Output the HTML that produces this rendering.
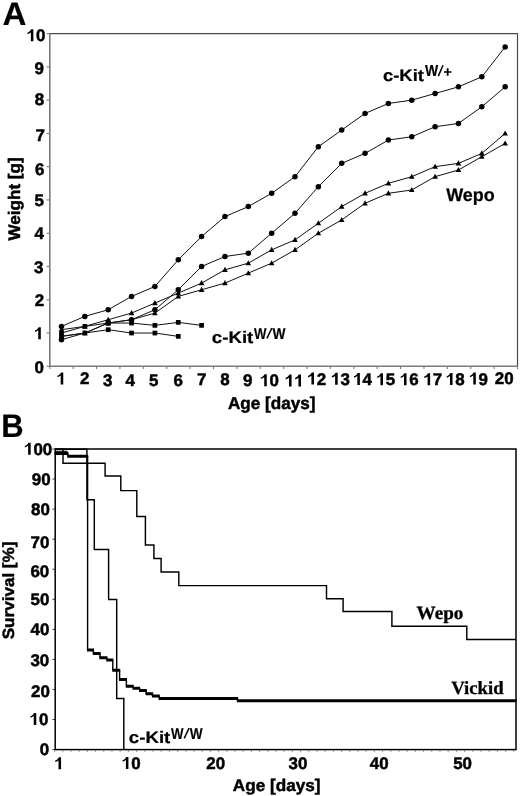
<!DOCTYPE html><html><head><meta charset="utf-8"><style>html,body{margin:0;padding:0;background:#fff;overflow:hidden}svg{display:block;filter:grayscale(1)}text{text-rendering:geometricPrecision}</style></head><body><svg width="520" height="796" viewBox="0 0 520 796">
<rect width="520" height="796" fill="#fff"/>
<path d="M49.8,33.6 H517.5 V366.3" fill="none" stroke="#4a4a4a" stroke-width="1.2"/>
<path d="M49.8,33.6 V366.3 H517.5" fill="none" stroke="#7a7a7a" stroke-width="1.6"/>
<line x1="46.6" y1="366.30" x2="49.8" y2="366.30" stroke="#7a7a7a" stroke-width="1.1"/>
<line x1="46.6" y1="333.03" x2="49.8" y2="333.03" stroke="#7a7a7a" stroke-width="1.1"/>
<line x1="46.6" y1="299.76" x2="49.8" y2="299.76" stroke="#7a7a7a" stroke-width="1.1"/>
<line x1="46.6" y1="266.49" x2="49.8" y2="266.49" stroke="#7a7a7a" stroke-width="1.1"/>
<line x1="46.6" y1="233.22" x2="49.8" y2="233.22" stroke="#7a7a7a" stroke-width="1.1"/>
<line x1="46.6" y1="199.95" x2="49.8" y2="199.95" stroke="#7a7a7a" stroke-width="1.1"/>
<line x1="46.6" y1="166.68" x2="49.8" y2="166.68" stroke="#7a7a7a" stroke-width="1.1"/>
<line x1="46.6" y1="133.41" x2="49.8" y2="133.41" stroke="#7a7a7a" stroke-width="1.1"/>
<line x1="46.6" y1="100.14" x2="49.8" y2="100.14" stroke="#7a7a7a" stroke-width="1.1"/>
<line x1="46.6" y1="66.87" x2="49.8" y2="66.87" stroke="#7a7a7a" stroke-width="1.1"/>
<line x1="46.6" y1="33.60" x2="49.8" y2="33.60" stroke="#7a7a7a" stroke-width="1.1"/>
<line x1="49.80" y1="366.3" x2="49.80" y2="369.1" stroke="#7a7a7a" stroke-width="1.1"/>
<line x1="73.19" y1="366.3" x2="73.19" y2="369.1" stroke="#7a7a7a" stroke-width="1.1"/>
<line x1="96.57" y1="366.3" x2="96.57" y2="369.1" stroke="#7a7a7a" stroke-width="1.1"/>
<line x1="119.95" y1="366.3" x2="119.95" y2="369.1" stroke="#7a7a7a" stroke-width="1.1"/>
<line x1="143.34" y1="366.3" x2="143.34" y2="369.1" stroke="#7a7a7a" stroke-width="1.1"/>
<line x1="166.72" y1="366.3" x2="166.72" y2="369.1" stroke="#7a7a7a" stroke-width="1.1"/>
<line x1="190.11" y1="366.3" x2="190.11" y2="369.1" stroke="#7a7a7a" stroke-width="1.1"/>
<line x1="213.50" y1="366.3" x2="213.50" y2="369.1" stroke="#7a7a7a" stroke-width="1.1"/>
<line x1="236.88" y1="366.3" x2="236.88" y2="369.1" stroke="#7a7a7a" stroke-width="1.1"/>
<line x1="260.26" y1="366.3" x2="260.26" y2="369.1" stroke="#7a7a7a" stroke-width="1.1"/>
<line x1="283.65" y1="366.3" x2="283.65" y2="369.1" stroke="#7a7a7a" stroke-width="1.1"/>
<line x1="307.03" y1="366.3" x2="307.03" y2="369.1" stroke="#7a7a7a" stroke-width="1.1"/>
<line x1="330.42" y1="366.3" x2="330.42" y2="369.1" stroke="#7a7a7a" stroke-width="1.1"/>
<line x1="353.81" y1="366.3" x2="353.81" y2="369.1" stroke="#7a7a7a" stroke-width="1.1"/>
<line x1="377.19" y1="366.3" x2="377.19" y2="369.1" stroke="#7a7a7a" stroke-width="1.1"/>
<line x1="400.57" y1="366.3" x2="400.57" y2="369.1" stroke="#7a7a7a" stroke-width="1.1"/>
<line x1="423.96" y1="366.3" x2="423.96" y2="369.1" stroke="#7a7a7a" stroke-width="1.1"/>
<line x1="447.34" y1="366.3" x2="447.34" y2="369.1" stroke="#7a7a7a" stroke-width="1.1"/>
<line x1="470.73" y1="366.3" x2="470.73" y2="369.1" stroke="#7a7a7a" stroke-width="1.1"/>
<line x1="494.11" y1="366.3" x2="494.11" y2="369.1" stroke="#7a7a7a" stroke-width="1.1"/>
<line x1="517.50" y1="366.3" x2="517.50" y2="369.1" stroke="#7a7a7a" stroke-width="1.1"/>
<polyline points="61.50,326.38 84.85,316.40 108.20,309.74 131.55,296.43 154.90,286.45 178.25,259.84 201.60,236.55 224.95,216.59 248.30,206.60 271.65,193.30 295.00,176.66 318.35,146.72 341.70,130.08 365.05,113.45 388.40,103.47 411.75,100.14 435.10,93.49 458.45,86.83 481.80,76.85 505.15,46.91" fill="none" stroke="#111" stroke-width="1.0"/>
<polyline points="61.50,339.68 84.85,333.03 108.20,323.05 131.55,319.72 154.90,309.74 178.25,289.78 201.60,266.49 224.95,256.51 248.30,253.18 271.65,233.22 295.00,213.26 318.35,186.64 341.70,163.35 365.05,153.37 388.40,140.06 411.75,136.74 435.10,126.76 458.45,123.43 481.80,106.79 505.15,86.83" fill="none" stroke="#111" stroke-width="1.0"/>
<polyline points="61.50,329.70 84.85,326.38 108.20,319.72 131.55,313.07 154.90,303.09 178.25,293.11 201.60,283.12 224.95,269.82 248.30,263.16 271.65,249.86 295.00,239.87 318.35,223.24 341.70,206.60 365.05,193.30 388.40,183.32 411.75,176.66 435.10,166.68 458.45,163.35 481.80,153.37 505.15,133.41" fill="none" stroke="#111" stroke-width="1.0"/>
<polyline points="61.50,336.36 84.85,333.03 108.20,323.05 131.55,319.72 154.90,313.07 178.25,296.43 201.60,289.78 224.95,283.12 248.30,273.14 271.65,263.16 295.00,249.86 318.35,233.22 341.70,219.91 365.05,203.28 388.40,193.30 411.75,189.97 435.10,176.66 458.45,170.01 481.80,156.70 505.15,143.39" fill="none" stroke="#111" stroke-width="1.0"/>
<polyline points="61.50,333.03 84.85,326.38 108.20,323.05 131.55,323.05 154.90,325.38 178.25,322.38 201.60,325.38" fill="none" stroke="#111" stroke-width="1.0"/>
<polyline points="61.50,336.36 84.85,333.03 108.20,329.70 131.55,333.03 154.90,333.03 178.25,336.36" fill="none" stroke="#111" stroke-width="1.0"/>
<circle cx="61.50" cy="326.38" r="2.75" fill="#000"/>
<circle cx="84.85" cy="316.40" r="2.75" fill="#000"/>
<circle cx="108.20" cy="309.74" r="2.75" fill="#000"/>
<circle cx="131.55" cy="296.43" r="2.75" fill="#000"/>
<circle cx="154.90" cy="286.45" r="2.75" fill="#000"/>
<circle cx="178.25" cy="259.84" r="2.75" fill="#000"/>
<circle cx="201.60" cy="236.55" r="2.75" fill="#000"/>
<circle cx="224.95" cy="216.59" r="2.75" fill="#000"/>
<circle cx="248.30" cy="206.60" r="2.75" fill="#000"/>
<circle cx="271.65" cy="193.30" r="2.75" fill="#000"/>
<circle cx="295.00" cy="176.66" r="2.75" fill="#000"/>
<circle cx="318.35" cy="146.72" r="2.75" fill="#000"/>
<circle cx="341.70" cy="130.08" r="2.75" fill="#000"/>
<circle cx="365.05" cy="113.45" r="2.75" fill="#000"/>
<circle cx="388.40" cy="103.47" r="2.75" fill="#000"/>
<circle cx="411.75" cy="100.14" r="2.75" fill="#000"/>
<circle cx="435.10" cy="93.49" r="2.75" fill="#000"/>
<circle cx="458.45" cy="86.83" r="2.75" fill="#000"/>
<circle cx="481.80" cy="76.85" r="2.75" fill="#000"/>
<circle cx="505.15" cy="46.91" r="2.75" fill="#000"/>
<circle cx="61.50" cy="339.68" r="2.75" fill="#000"/>
<circle cx="108.20" cy="323.05" r="2.75" fill="#000"/>
<circle cx="131.55" cy="319.72" r="2.75" fill="#000"/>
<circle cx="154.90" cy="309.74" r="2.75" fill="#000"/>
<circle cx="178.25" cy="289.78" r="2.75" fill="#000"/>
<circle cx="201.60" cy="266.49" r="2.75" fill="#000"/>
<circle cx="224.95" cy="256.51" r="2.75" fill="#000"/>
<circle cx="248.30" cy="253.18" r="2.75" fill="#000"/>
<circle cx="271.65" cy="233.22" r="2.75" fill="#000"/>
<circle cx="295.00" cy="213.26" r="2.75" fill="#000"/>
<circle cx="318.35" cy="186.64" r="2.75" fill="#000"/>
<circle cx="341.70" cy="163.35" r="2.75" fill="#000"/>
<circle cx="365.05" cy="153.37" r="2.75" fill="#000"/>
<circle cx="388.40" cy="140.06" r="2.75" fill="#000"/>
<circle cx="411.75" cy="136.74" r="2.75" fill="#000"/>
<circle cx="435.10" cy="126.76" r="2.75" fill="#000"/>
<circle cx="458.45" cy="123.43" r="2.75" fill="#000"/>
<circle cx="481.80" cy="106.79" r="2.75" fill="#000"/>
<circle cx="505.15" cy="86.83" r="2.75" fill="#000"/>
<path d="M61.50,326.70L64.30,331.80L58.70,331.80Z" fill="#000"/>
<path d="M84.85,323.38L87.65,328.48L82.05,328.48Z" fill="#000"/>
<path d="M108.20,316.72L111.00,321.82L105.40,321.82Z" fill="#000"/>
<path d="M131.55,310.07L134.35,315.17L128.75,315.17Z" fill="#000"/>
<path d="M154.90,300.09L157.70,305.19L152.10,305.19Z" fill="#000"/>
<path d="M178.25,290.11L181.05,295.21L175.45,295.21Z" fill="#000"/>
<path d="M201.60,280.12L204.40,285.23L198.80,285.23Z" fill="#000"/>
<path d="M224.95,266.82L227.75,271.92L222.15,271.92Z" fill="#000"/>
<path d="M248.30,260.16L251.10,265.26L245.50,265.26Z" fill="#000"/>
<path d="M271.65,246.86L274.45,251.96L268.85,251.96Z" fill="#000"/>
<path d="M295.00,236.87L297.80,241.97L292.20,241.97Z" fill="#000"/>
<path d="M318.35,220.24L321.15,225.34L315.55,225.34Z" fill="#000"/>
<path d="M341.70,203.60L344.50,208.70L338.90,208.70Z" fill="#000"/>
<path d="M365.05,190.30L367.85,195.40L362.25,195.40Z" fill="#000"/>
<path d="M388.40,180.32L391.20,185.42L385.60,185.42Z" fill="#000"/>
<path d="M411.75,173.66L414.55,178.76L408.95,178.76Z" fill="#000"/>
<path d="M435.10,163.68L437.90,168.78L432.30,168.78Z" fill="#000"/>
<path d="M458.45,160.35L461.25,165.45L455.65,165.45Z" fill="#000"/>
<path d="M481.80,150.37L484.60,155.47L479.00,155.47Z" fill="#000"/>
<path d="M505.15,130.41L507.95,135.51L502.35,135.51Z" fill="#000"/>
<path d="M61.50,333.36L64.30,338.46L58.70,338.46Z" fill="#000"/>
<path d="M84.85,330.03L87.65,335.13L82.05,335.13Z" fill="#000"/>
<path d="M108.20,320.05L111.00,325.15L105.40,325.15Z" fill="#000"/>
<path d="M131.55,316.72L134.35,321.82L128.75,321.82Z" fill="#000"/>
<path d="M154.90,310.07L157.70,315.17L152.10,315.17Z" fill="#000"/>
<path d="M178.25,293.43L181.05,298.53L175.45,298.53Z" fill="#000"/>
<path d="M201.60,286.78L204.40,291.88L198.80,291.88Z" fill="#000"/>
<path d="M224.95,280.12L227.75,285.23L222.15,285.23Z" fill="#000"/>
<path d="M248.30,270.14L251.10,275.24L245.50,275.24Z" fill="#000"/>
<path d="M271.65,260.16L274.45,265.26L268.85,265.26Z" fill="#000"/>
<path d="M295.00,246.86L297.80,251.96L292.20,251.96Z" fill="#000"/>
<path d="M318.35,230.22L321.15,235.32L315.55,235.32Z" fill="#000"/>
<path d="M341.70,216.91L344.50,222.01L338.90,222.01Z" fill="#000"/>
<path d="M365.05,200.28L367.85,205.38L362.25,205.38Z" fill="#000"/>
<path d="M388.40,190.30L391.20,195.40L385.60,195.40Z" fill="#000"/>
<path d="M411.75,186.97L414.55,192.07L408.95,192.07Z" fill="#000"/>
<path d="M435.10,173.66L437.90,178.76L432.30,178.76Z" fill="#000"/>
<path d="M458.45,167.01L461.25,172.11L455.65,172.11Z" fill="#000"/>
<path d="M481.80,153.70L484.60,158.80L479.00,158.80Z" fill="#000"/>
<path d="M505.15,140.39L507.95,145.49L502.35,145.49Z" fill="#000"/>
<rect x="59.15" y="330.68" width="4.70" height="4.70" fill="#000"/>
<rect x="82.50" y="324.03" width="4.70" height="4.70" fill="#000"/>
<rect x="105.85" y="320.70" width="4.70" height="4.70" fill="#000"/>
<rect x="129.20" y="320.70" width="4.70" height="4.70" fill="#000"/>
<rect x="152.55" y="323.03" width="4.70" height="4.70" fill="#000"/>
<rect x="175.90" y="320.03" width="4.70" height="4.70" fill="#000"/>
<rect x="199.25" y="323.03" width="4.70" height="4.70" fill="#000"/>
<rect x="59.15" y="334.01" width="4.70" height="4.70" fill="#000"/>
<rect x="82.50" y="330.68" width="4.70" height="4.70" fill="#000"/>
<rect x="105.85" y="327.35" width="4.70" height="4.70" fill="#000"/>
<rect x="129.20" y="330.68" width="4.70" height="4.70" fill="#000"/>
<rect x="152.55" y="330.68" width="4.70" height="4.70" fill="#000"/>
<rect x="175.90" y="334.01" width="4.70" height="4.70" fill="#000"/>
<rect x="55.2" y="449.0" width="460.8" height="300.6" fill="none" stroke="#000" stroke-width="1.5"/>
<line x1="52.3" y1="749.60" x2="55.2" y2="749.60" stroke="#000" stroke-width="1.0" stroke-opacity="0.7"/>
<line x1="52.3" y1="719.54" x2="55.2" y2="719.54" stroke="#000" stroke-width="1.0" stroke-opacity="0.7"/>
<line x1="52.3" y1="689.48" x2="55.2" y2="689.48" stroke="#000" stroke-width="1.0" stroke-opacity="0.7"/>
<line x1="52.3" y1="659.42" x2="55.2" y2="659.42" stroke="#000" stroke-width="1.0" stroke-opacity="0.7"/>
<line x1="52.3" y1="629.36" x2="55.2" y2="629.36" stroke="#000" stroke-width="1.0" stroke-opacity="0.7"/>
<line x1="52.3" y1="599.30" x2="55.2" y2="599.30" stroke="#000" stroke-width="1.0" stroke-opacity="0.7"/>
<line x1="52.3" y1="569.24" x2="55.2" y2="569.24" stroke="#000" stroke-width="1.0" stroke-opacity="0.7"/>
<line x1="52.3" y1="539.18" x2="55.2" y2="539.18" stroke="#000" stroke-width="1.0" stroke-opacity="0.7"/>
<line x1="52.3" y1="509.12" x2="55.2" y2="509.12" stroke="#000" stroke-width="1.0" stroke-opacity="0.7"/>
<line x1="52.3" y1="479.06" x2="55.2" y2="479.06" stroke="#000" stroke-width="1.0" stroke-opacity="0.7"/>
<line x1="52.3" y1="449.00" x2="55.2" y2="449.00" stroke="#000" stroke-width="1.0" stroke-opacity="0.7"/>
<line x1="54.60" y1="750.3000000000001" x2="54.60" y2="752.2" stroke="#000" stroke-width="0.9" stroke-opacity="0.45"/>
<line x1="62.80" y1="750.3000000000001" x2="62.80" y2="752.2" stroke="#000" stroke-width="0.9" stroke-opacity="0.45"/>
<line x1="71.00" y1="750.3000000000001" x2="71.00" y2="752.2" stroke="#000" stroke-width="0.9" stroke-opacity="0.45"/>
<line x1="79.20" y1="750.3000000000001" x2="79.20" y2="752.2" stroke="#000" stroke-width="0.9" stroke-opacity="0.45"/>
<line x1="87.40" y1="750.3000000000001" x2="87.40" y2="752.2" stroke="#000" stroke-width="0.9" stroke-opacity="0.45"/>
<line x1="95.60" y1="750.3000000000001" x2="95.60" y2="752.2" stroke="#000" stroke-width="0.9" stroke-opacity="0.45"/>
<line x1="103.80" y1="750.3000000000001" x2="103.80" y2="752.2" stroke="#000" stroke-width="0.9" stroke-opacity="0.45"/>
<line x1="112.00" y1="750.3000000000001" x2="112.00" y2="752.2" stroke="#000" stroke-width="0.9" stroke-opacity="0.45"/>
<line x1="120.20" y1="750.3000000000001" x2="120.20" y2="752.2" stroke="#000" stroke-width="0.9" stroke-opacity="0.45"/>
<line x1="128.40" y1="750.3000000000001" x2="128.40" y2="752.2" stroke="#000" stroke-width="0.9" stroke-opacity="0.45"/>
<line x1="136.60" y1="750.3000000000001" x2="136.60" y2="752.2" stroke="#000" stroke-width="0.9" stroke-opacity="0.45"/>
<line x1="144.80" y1="750.3000000000001" x2="144.80" y2="752.2" stroke="#000" stroke-width="0.9" stroke-opacity="0.45"/>
<line x1="153.00" y1="750.3000000000001" x2="153.00" y2="752.2" stroke="#000" stroke-width="0.9" stroke-opacity="0.45"/>
<line x1="161.20" y1="750.3000000000001" x2="161.20" y2="752.2" stroke="#000" stroke-width="0.9" stroke-opacity="0.45"/>
<line x1="169.40" y1="750.3000000000001" x2="169.40" y2="752.2" stroke="#000" stroke-width="0.9" stroke-opacity="0.45"/>
<line x1="177.60" y1="750.3000000000001" x2="177.60" y2="752.2" stroke="#000" stroke-width="0.9" stroke-opacity="0.45"/>
<line x1="185.80" y1="750.3000000000001" x2="185.80" y2="752.2" stroke="#000" stroke-width="0.9" stroke-opacity="0.45"/>
<line x1="194.00" y1="750.3000000000001" x2="194.00" y2="752.2" stroke="#000" stroke-width="0.9" stroke-opacity="0.45"/>
<line x1="202.20" y1="750.3000000000001" x2="202.20" y2="752.2" stroke="#000" stroke-width="0.9" stroke-opacity="0.45"/>
<line x1="210.40" y1="750.3000000000001" x2="210.40" y2="752.2" stroke="#000" stroke-width="0.9" stroke-opacity="0.45"/>
<line x1="218.60" y1="750.3000000000001" x2="218.60" y2="752.2" stroke="#000" stroke-width="0.9" stroke-opacity="0.45"/>
<line x1="226.80" y1="750.3000000000001" x2="226.80" y2="752.2" stroke="#000" stroke-width="0.9" stroke-opacity="0.45"/>
<line x1="235.00" y1="750.3000000000001" x2="235.00" y2="752.2" stroke="#000" stroke-width="0.9" stroke-opacity="0.45"/>
<line x1="243.20" y1="750.3000000000001" x2="243.20" y2="752.2" stroke="#000" stroke-width="0.9" stroke-opacity="0.45"/>
<line x1="251.40" y1="750.3000000000001" x2="251.40" y2="752.2" stroke="#000" stroke-width="0.9" stroke-opacity="0.45"/>
<line x1="259.60" y1="750.3000000000001" x2="259.60" y2="752.2" stroke="#000" stroke-width="0.9" stroke-opacity="0.45"/>
<line x1="267.80" y1="750.3000000000001" x2="267.80" y2="752.2" stroke="#000" stroke-width="0.9" stroke-opacity="0.45"/>
<line x1="276.00" y1="750.3000000000001" x2="276.00" y2="752.2" stroke="#000" stroke-width="0.9" stroke-opacity="0.45"/>
<line x1="284.20" y1="750.3000000000001" x2="284.20" y2="752.2" stroke="#000" stroke-width="0.9" stroke-opacity="0.45"/>
<line x1="292.40" y1="750.3000000000001" x2="292.40" y2="752.2" stroke="#000" stroke-width="0.9" stroke-opacity="0.45"/>
<line x1="300.60" y1="750.3000000000001" x2="300.60" y2="752.2" stroke="#000" stroke-width="0.9" stroke-opacity="0.45"/>
<line x1="308.80" y1="750.3000000000001" x2="308.80" y2="752.2" stroke="#000" stroke-width="0.9" stroke-opacity="0.45"/>
<line x1="317.00" y1="750.3000000000001" x2="317.00" y2="752.2" stroke="#000" stroke-width="0.9" stroke-opacity="0.45"/>
<line x1="325.20" y1="750.3000000000001" x2="325.20" y2="752.2" stroke="#000" stroke-width="0.9" stroke-opacity="0.45"/>
<line x1="333.40" y1="750.3000000000001" x2="333.40" y2="752.2" stroke="#000" stroke-width="0.9" stroke-opacity="0.45"/>
<line x1="341.60" y1="750.3000000000001" x2="341.60" y2="752.2" stroke="#000" stroke-width="0.9" stroke-opacity="0.45"/>
<line x1="349.80" y1="750.3000000000001" x2="349.80" y2="752.2" stroke="#000" stroke-width="0.9" stroke-opacity="0.45"/>
<line x1="358.00" y1="750.3000000000001" x2="358.00" y2="752.2" stroke="#000" stroke-width="0.9" stroke-opacity="0.45"/>
<line x1="366.20" y1="750.3000000000001" x2="366.20" y2="752.2" stroke="#000" stroke-width="0.9" stroke-opacity="0.45"/>
<line x1="374.40" y1="750.3000000000001" x2="374.40" y2="752.2" stroke="#000" stroke-width="0.9" stroke-opacity="0.45"/>
<line x1="382.60" y1="750.3000000000001" x2="382.60" y2="752.2" stroke="#000" stroke-width="0.9" stroke-opacity="0.45"/>
<line x1="390.80" y1="750.3000000000001" x2="390.80" y2="752.2" stroke="#000" stroke-width="0.9" stroke-opacity="0.45"/>
<line x1="399.00" y1="750.3000000000001" x2="399.00" y2="752.2" stroke="#000" stroke-width="0.9" stroke-opacity="0.45"/>
<line x1="407.20" y1="750.3000000000001" x2="407.20" y2="752.2" stroke="#000" stroke-width="0.9" stroke-opacity="0.45"/>
<line x1="415.40" y1="750.3000000000001" x2="415.40" y2="752.2" stroke="#000" stroke-width="0.9" stroke-opacity="0.45"/>
<line x1="423.60" y1="750.3000000000001" x2="423.60" y2="752.2" stroke="#000" stroke-width="0.9" stroke-opacity="0.45"/>
<line x1="431.80" y1="750.3000000000001" x2="431.80" y2="752.2" stroke="#000" stroke-width="0.9" stroke-opacity="0.45"/>
<line x1="440.00" y1="750.3000000000001" x2="440.00" y2="752.2" stroke="#000" stroke-width="0.9" stroke-opacity="0.45"/>
<line x1="448.20" y1="750.3000000000001" x2="448.20" y2="752.2" stroke="#000" stroke-width="0.9" stroke-opacity="0.45"/>
<line x1="456.40" y1="750.3000000000001" x2="456.40" y2="752.2" stroke="#000" stroke-width="0.9" stroke-opacity="0.45"/>
<line x1="464.60" y1="750.3000000000001" x2="464.60" y2="752.2" stroke="#000" stroke-width="0.9" stroke-opacity="0.45"/>
<line x1="472.80" y1="750.3000000000001" x2="472.80" y2="752.2" stroke="#000" stroke-width="0.9" stroke-opacity="0.45"/>
<line x1="481.00" y1="750.3000000000001" x2="481.00" y2="752.2" stroke="#000" stroke-width="0.9" stroke-opacity="0.45"/>
<line x1="489.20" y1="750.3000000000001" x2="489.20" y2="752.2" stroke="#000" stroke-width="0.9" stroke-opacity="0.45"/>
<line x1="497.40" y1="750.3000000000001" x2="497.40" y2="752.2" stroke="#000" stroke-width="0.9" stroke-opacity="0.45"/>
<line x1="505.60" y1="750.3000000000001" x2="505.60" y2="752.2" stroke="#000" stroke-width="0.9" stroke-opacity="0.45"/>
<line x1="513.80" y1="750.3000000000001" x2="513.80" y2="752.2" stroke="#000" stroke-width="0.9" stroke-opacity="0.45"/>
<path d="M55.2,449.2 H63 V463.2 H105.1 V476 H120.8 V490.6 H136.8 V516.5 H145.4 V544.9 H153.9 V558.5 H161.1 V571.9 H178.8 V585.6 H326.5 V598.8 H343.1 V611.5 H391.9 V626.2 H466.8 V639.5 H516" fill="none" stroke="#000" stroke-width="1.45"/>
<path d="M55.2,449.2 H86.9 V499.7 H94.3 V549.5 H108.6 V599.5 H116.7 V698.5 H123.8 V749.6" fill="none" stroke="#000" stroke-width="1.45"/>
<path d="M55.2,451.3 H67.5" fill="none" stroke="#000" stroke-width="1.1"/>
<path d="M67.8,453.4V456.3M87.6,456.3V650.1M93.4,650.1V653.5M100.0,653.5V657.8M106.9,657.8V660.0M112.8,660.0V670.3M119.6,670.3V679.4M126.4,679.4V686.2M133.1,686.2V688.3M139.6,688.3V690.6M146.2,690.6V693.7M152.5,693.7V696.0M159.2,696.0V698.4M237.5,698.4V700.8" fill="none" stroke="#000" stroke-width="1.4"/>
<path d="M54.6,453.4H68.4M67.2,456.3H88.2M87.0,650.1H94.0M92.8,653.5H100.6M99.4,657.8H107.5M106.3,660.0H113.4M112.2,670.3H120.2M119.0,679.4H127.0M125.8,686.2H133.7M132.5,688.3H140.2M139.0,690.6H146.8M145.6,693.7H153.1M151.9,696.0H159.8M158.6,698.4H238.1M236.9,700.8H516.6" fill="none" stroke="#000" stroke-width="3.0"/>
<g transform="translate(2.49,25.10) scale(1.0714,1.0547)"><text x="0" y="0" font-family="Liberation Sans" font-weight="bold" font-size="31" stroke="#000" stroke-width="0.15" stroke-linejoin="round">A</text></g>
<g transform="translate(1.20,437.10) scale(1.0000,1.0547)"><text x="0" y="0" font-family="Liberation Sans" font-weight="bold" font-size="31" stroke="#000" stroke-width="0.15" stroke-linejoin="round">B</text></g>
<g transform="translate(26.68,41.36) scale(1.0587,1.0493)"><path transform="translate(0.000,0) scale(0.01600,-0.01600)" d="M395,0 L245,0 L245,530 C190,480 120,448 50,428 L50,520 C150,560 225,630 265,716 L395,716 Z"/><text x="8.896" y="0" font-family="Liberation Sans" font-weight="bold" font-size="16" stroke="#000" stroke-width="0.45" stroke-linejoin="round">0</text></g>
<g transform="translate(34.42,74.02) scale(1.0587,1.0493)"><text x="0.000" y="0" font-family="Liberation Sans" font-weight="bold" font-size="16" stroke="#000" stroke-width="0.45" stroke-linejoin="round">9</text></g>
<g transform="translate(34.69,104.82) scale(1.0587,1.0493)"><text x="0.000" y="0" font-family="Liberation Sans" font-weight="bold" font-size="16" stroke="#000" stroke-width="0.45" stroke-linejoin="round">8</text></g>
<g transform="translate(35.49,141.32) scale(1.0587,1.0493)"><text x="0.000" y="0" font-family="Liberation Sans" font-weight="bold" font-size="16" stroke="#000" stroke-width="0.45" stroke-linejoin="round">7</text></g>
<g transform="translate(35.02,174.52) scale(1.0587,1.0493)"><text x="0.000" y="0" font-family="Liberation Sans" font-weight="bold" font-size="16" stroke="#000" stroke-width="0.45" stroke-linejoin="round">6</text></g>
<g transform="translate(34.59,205.88) scale(1.0587,1.0493)"><text x="0.000" y="0" font-family="Liberation Sans" font-weight="bold" font-size="16" stroke="#000" stroke-width="0.45" stroke-linejoin="round">5</text></g>
<g transform="translate(34.39,238.92) scale(1.0587,1.0493)"><text x="0.000" y="0" font-family="Liberation Sans" font-weight="bold" font-size="16" stroke="#000" stroke-width="0.45" stroke-linejoin="round">4</text></g>
<g transform="translate(33.96,272.92) scale(1.0587,1.0493)"><text x="0.000" y="0" font-family="Liberation Sans" font-weight="bold" font-size="16" stroke="#000" stroke-width="0.45" stroke-linejoin="round">3</text></g>
<g transform="translate(34.67,306.21) scale(1.0587,1.0493)"><text x="0.000" y="0" font-family="Liberation Sans" font-weight="bold" font-size="16" stroke="#000" stroke-width="0.45" stroke-linejoin="round">2</text></g>
<g transform="translate(34.11,339.23) scale(1.0587,1.0493)"><path transform="translate(0.000,0) scale(0.01600,-0.01600)" d="M395,0 L245,0 L245,530 C190,480 120,448 50,428 L50,520 C150,560 225,630 265,716 L395,716 Z"/></g>
<g transform="translate(34.57,373.32) scale(1.0587,1.0493)"><text x="0.000" y="0" font-family="Liberation Sans" font-weight="bold" font-size="16" stroke="#000" stroke-width="0.45" stroke-linejoin="round">0</text></g>
<g transform="translate(56.56,384.43) scale(1.0587,1.0493)"><path transform="translate(0.000,0) scale(0.01600,-0.01600)" d="M395,0 L245,0 L245,530 C190,480 120,448 50,428 L50,520 C150,560 225,630 265,716 L395,716 Z"/></g>
<g transform="translate(79.92,384.11) scale(1.0587,1.0493)"><text x="0.000" y="0" font-family="Liberation Sans" font-weight="bold" font-size="16" stroke="#000" stroke-width="0.45" stroke-linejoin="round">2</text></g>
<g transform="translate(103.11,385.97) scale(1.0587,1.0493)"><text x="0.000" y="0" font-family="Liberation Sans" font-weight="bold" font-size="16" stroke="#000" stroke-width="0.45" stroke-linejoin="round">3</text></g>
<g transform="translate(125.49,385.72) scale(1.0587,1.0493)"><text x="0.000" y="0" font-family="Liberation Sans" font-weight="bold" font-size="16" stroke="#000" stroke-width="0.45" stroke-linejoin="round">4</text></g>
<g transform="translate(149.09,385.63) scale(1.0587,1.0493)"><text x="0.000" y="0" font-family="Liberation Sans" font-weight="bold" font-size="16" stroke="#000" stroke-width="0.45" stroke-linejoin="round">5</text></g>
<g transform="translate(173.62,385.67) scale(1.0587,1.0493)"><text x="0.000" y="0" font-family="Liberation Sans" font-weight="bold" font-size="16" stroke="#000" stroke-width="0.45" stroke-linejoin="round">6</text></g>
<g transform="translate(196.94,385.32) scale(1.0587,1.0493)"><text x="0.000" y="0" font-family="Liberation Sans" font-weight="bold" font-size="16" stroke="#000" stroke-width="0.45" stroke-linejoin="round">7</text></g>
<g transform="translate(220.24,385.32) scale(1.0587,1.0493)"><text x="0.000" y="0" font-family="Liberation Sans" font-weight="bold" font-size="16" stroke="#000" stroke-width="0.45" stroke-linejoin="round">8</text></g>
<g transform="translate(243.02,385.97) scale(1.0587,1.0493)"><text x="0.000" y="0" font-family="Liberation Sans" font-weight="bold" font-size="16" stroke="#000" stroke-width="0.45" stroke-linejoin="round">9</text></g>
<g transform="translate(260.08,386.21) scale(1.0587,1.0493)"><path transform="translate(0.000,0) scale(0.01600,-0.01600)" d="M395,0 L245,0 L245,530 C190,480 120,448 50,428 L50,520 C150,560 225,630 265,716 L395,716 Z"/><text x="8.896" y="0" font-family="Liberation Sans" font-weight="bold" font-size="16" stroke="#000" stroke-width="0.45" stroke-linejoin="round">0</text></g>
<g transform="translate(284.88,386.58) scale(1.0587,1.0493)"><path transform="translate(0.000,0) scale(0.01600,-0.01600)" d="M395,0 L245,0 L245,530 C190,480 120,448 50,428 L50,520 C150,560 225,630 265,716 L395,716 Z"/><path transform="translate(8.896,0) scale(0.01600,-0.01600)" d="M395,0 L245,0 L245,530 C190,480 120,448 50,428 L50,520 C150,560 225,630 265,716 L395,716 Z"/></g>
<g transform="translate(307.28,384.60) scale(1.0587,1.0493)"><path transform="translate(0.000,0) scale(0.01600,-0.01600)" d="M395,0 L245,0 L245,530 C190,480 120,448 50,428 L50,520 C150,560 225,630 265,716 L395,716 Z"/><text x="8.896" y="0" font-family="Liberation Sans" font-weight="bold" font-size="16" stroke="#000" stroke-width="0.45" stroke-linejoin="round">2</text></g>
<g transform="translate(330.98,384.81) scale(1.0587,1.0493)"><path transform="translate(0.000,0) scale(0.01600,-0.01600)" d="M395,0 L245,0 L245,530 C190,480 120,448 50,428 L50,520 C150,560 225,630 265,716 L395,716 Z"/><text x="8.896" y="0" font-family="Liberation Sans" font-weight="bold" font-size="16" stroke="#000" stroke-width="0.45" stroke-linejoin="round">3</text></g>
<g transform="translate(353.17,384.90) scale(1.0587,1.0493)"><path transform="translate(0.000,0) scale(0.01600,-0.01600)" d="M395,0 L245,0 L245,530 C190,480 120,448 50,428 L50,520 C150,560 225,630 265,716 L395,716 Z"/><text x="8.896" y="0" font-family="Liberation Sans" font-weight="bold" font-size="16" stroke="#000" stroke-width="0.45" stroke-linejoin="round">4</text></g>
<g transform="translate(376.30,385.21) scale(1.0587,1.0493)"><path transform="translate(0.000,0) scale(0.01600,-0.01600)" d="M395,0 L245,0 L245,530 C190,480 120,448 50,428 L50,520 C150,560 225,630 265,716 L395,716 Z"/><text x="8.896" y="0" font-family="Liberation Sans" font-weight="bold" font-size="16" stroke="#000" stroke-width="0.45" stroke-linejoin="round">5</text></g>
<g transform="translate(399.83,385.21) scale(1.0587,1.0493)"><path transform="translate(0.000,0) scale(0.01600,-0.01600)" d="M395,0 L245,0 L245,530 C190,480 120,448 50,428 L50,520 C150,560 225,630 265,716 L395,716 Z"/><text x="8.896" y="0" font-family="Liberation Sans" font-weight="bold" font-size="16" stroke="#000" stroke-width="0.45" stroke-linejoin="round">6</text></g>
<g transform="translate(423.43,385.30) scale(1.0587,1.0493)"><path transform="translate(0.000,0) scale(0.01600,-0.01600)" d="M395,0 L245,0 L245,530 C190,480 120,448 50,428 L50,520 C150,560 225,630 265,716 L395,716 Z"/><text x="8.896" y="0" font-family="Liberation Sans" font-weight="bold" font-size="16" stroke="#000" stroke-width="0.45" stroke-linejoin="round">7</text></g>
<g transform="translate(445.85,384.91) scale(1.0587,1.0493)"><path transform="translate(0.000,0) scale(0.01600,-0.01600)" d="M395,0 L245,0 L245,530 C190,480 120,448 50,428 L50,520 C150,560 225,630 265,716 L395,716 Z"/><text x="8.896" y="0" font-family="Liberation Sans" font-weight="bold" font-size="16" stroke="#000" stroke-width="0.45" stroke-linejoin="round">8</text></g>
<g transform="translate(469.13,384.51) scale(1.0587,1.0493)"><path transform="translate(0.000,0) scale(0.01600,-0.01600)" d="M395,0 L245,0 L245,530 C190,480 120,448 50,428 L50,520 C150,560 225,630 265,716 L395,716 Z"/><text x="8.896" y="0" font-family="Liberation Sans" font-weight="bold" font-size="16" stroke="#000" stroke-width="0.45" stroke-linejoin="round">9</text></g>
<g transform="translate(494.80,384.42) scale(1.0587,1.0493)"><text x="0.000" y="0" font-family="Liberation Sans" font-weight="bold" font-size="16" stroke="#000" stroke-width="0.45" stroke-linejoin="round">2</text><text x="8.896" y="0" font-family="Liberation Sans" font-weight="bold" font-size="16" stroke="#000" stroke-width="0.45" stroke-linejoin="round">0</text></g>
<g transform="translate(23.97,454.66) scale(1.0587,1.0493)"><path transform="translate(0.000,0) scale(0.01600,-0.01600)" d="M395,0 L245,0 L245,530 C190,480 120,448 50,428 L50,520 C150,560 225,630 265,716 L395,716 Z"/><text x="8.896" y="0" font-family="Liberation Sans" font-weight="bold" font-size="16" stroke="#000" stroke-width="0.45" stroke-linejoin="round">0</text><text x="17.792" y="0" font-family="Liberation Sans" font-weight="bold" font-size="16" stroke="#000" stroke-width="0.45" stroke-linejoin="round">0</text></g>
<g transform="translate(31.75,485.32) scale(1.0587,1.0493)"><text x="0.000" y="0" font-family="Liberation Sans" font-weight="bold" font-size="16" stroke="#000" stroke-width="0.45" stroke-linejoin="round">9</text><text x="8.896" y="0" font-family="Liberation Sans" font-weight="bold" font-size="16" stroke="#000" stroke-width="0.45" stroke-linejoin="round">0</text></g>
<g transform="translate(31.00,515.17) scale(1.0587,1.0493)"><text x="0.000" y="0" font-family="Liberation Sans" font-weight="bold" font-size="16" stroke="#000" stroke-width="0.45" stroke-linejoin="round">8</text><text x="8.896" y="0" font-family="Liberation Sans" font-weight="bold" font-size="16" stroke="#000" stroke-width="0.45" stroke-linejoin="round">0</text></g>
<g transform="translate(30.51,548.42) scale(1.0587,1.0493)"><text x="0.000" y="0" font-family="Liberation Sans" font-weight="bold" font-size="16" stroke="#000" stroke-width="0.45" stroke-linejoin="round">7</text><text x="8.896" y="0" font-family="Liberation Sans" font-weight="bold" font-size="16" stroke="#000" stroke-width="0.45" stroke-linejoin="round">0</text></g>
<g transform="translate(30.40,576.92) scale(1.0587,1.0493)"><text x="0.000" y="0" font-family="Liberation Sans" font-weight="bold" font-size="16" stroke="#000" stroke-width="0.45" stroke-linejoin="round">6</text><text x="8.896" y="0" font-family="Liberation Sans" font-weight="bold" font-size="16" stroke="#000" stroke-width="0.45" stroke-linejoin="round">0</text></g>
<g transform="translate(30.60,605.37) scale(1.0587,1.0493)"><text x="0.000" y="0" font-family="Liberation Sans" font-weight="bold" font-size="16" stroke="#000" stroke-width="0.45" stroke-linejoin="round">5</text><text x="8.896" y="0" font-family="Liberation Sans" font-weight="bold" font-size="16" stroke="#000" stroke-width="0.45" stroke-linejoin="round">0</text></g>
<g transform="translate(30.57,635.32) scale(1.0587,1.0493)"><text x="0.000" y="0" font-family="Liberation Sans" font-weight="bold" font-size="16" stroke="#000" stroke-width="0.45" stroke-linejoin="round">4</text><text x="8.896" y="0" font-family="Liberation Sans" font-weight="bold" font-size="16" stroke="#000" stroke-width="0.45" stroke-linejoin="round">0</text></g>
<g transform="translate(30.39,666.32) scale(1.0587,1.0493)"><text x="0.000" y="0" font-family="Liberation Sans" font-weight="bold" font-size="16" stroke="#000" stroke-width="0.45" stroke-linejoin="round">3</text><text x="8.896" y="0" font-family="Liberation Sans" font-weight="bold" font-size="16" stroke="#000" stroke-width="0.45" stroke-linejoin="round">0</text></g>
<g transform="translate(31.10,697.12) scale(1.0587,1.0493)"><text x="0.000" y="0" font-family="Liberation Sans" font-weight="bold" font-size="16" stroke="#000" stroke-width="0.45" stroke-linejoin="round">2</text><text x="8.896" y="0" font-family="Liberation Sans" font-weight="bold" font-size="16" stroke="#000" stroke-width="0.45" stroke-linejoin="round">0</text></g>
<g transform="translate(29.58,724.91) scale(1.0587,1.0493)"><path transform="translate(0.000,0) scale(0.01600,-0.01600)" d="M395,0 L245,0 L245,530 C190,480 120,448 50,428 L50,520 C150,560 225,630 265,716 L395,716 Z"/><text x="8.896" y="0" font-family="Liberation Sans" font-weight="bold" font-size="16" stroke="#000" stroke-width="0.45" stroke-linejoin="round">0</text></g>
<g transform="translate(39.87,755.47) scale(1.0587,1.0493)"><text x="0.000" y="0" font-family="Liberation Sans" font-weight="bold" font-size="16" stroke="#000" stroke-width="0.45" stroke-linejoin="round">0</text></g>
<g transform="translate(54.36,769.28) scale(1.0587,1.0493)"><path transform="translate(0.000,0) scale(0.01600,-0.01600)" d="M395,0 L245,0 L245,530 C190,480 120,448 50,428 L50,520 C150,560 225,630 265,716 L395,716 Z"/></g>
<g transform="translate(121.73,769.01) scale(1.0587,1.0493)"><path transform="translate(0.000,0) scale(0.01600,-0.01600)" d="M395,0 L245,0 L245,530 C190,480 120,448 50,428 L50,520 C150,560 225,630 265,716 L395,716 Z"/><text x="8.896" y="0" font-family="Liberation Sans" font-weight="bold" font-size="16" stroke="#000" stroke-width="0.45" stroke-linejoin="round">0</text></g>
<g transform="translate(206.30,768.72) scale(1.0587,1.0493)"><text x="0.000" y="0" font-family="Liberation Sans" font-weight="bold" font-size="16" stroke="#000" stroke-width="0.45" stroke-linejoin="round">2</text><text x="8.896" y="0" font-family="Liberation Sans" font-weight="bold" font-size="16" stroke="#000" stroke-width="0.45" stroke-linejoin="round">0</text></g>
<g transform="translate(288.59,768.82) scale(1.0587,1.0493)"><text x="0.000" y="0" font-family="Liberation Sans" font-weight="bold" font-size="16" stroke="#000" stroke-width="0.45" stroke-linejoin="round">3</text><text x="8.896" y="0" font-family="Liberation Sans" font-weight="bold" font-size="16" stroke="#000" stroke-width="0.45" stroke-linejoin="round">0</text></g>
<g transform="translate(369.77,768.72) scale(1.0587,1.0493)"><text x="0.000" y="0" font-family="Liberation Sans" font-weight="bold" font-size="16" stroke="#000" stroke-width="0.45" stroke-linejoin="round">4</text><text x="8.896" y="0" font-family="Liberation Sans" font-weight="bold" font-size="16" stroke="#000" stroke-width="0.45" stroke-linejoin="round">0</text></g>
<g transform="translate(453.15,768.72) scale(1.0587,1.0493)"><text x="0.000" y="0" font-family="Liberation Sans" font-weight="bold" font-size="16" stroke="#000" stroke-width="0.45" stroke-linejoin="round">5</text><text x="8.896" y="0" font-family="Liberation Sans" font-weight="bold" font-size="16" stroke="#000" stroke-width="0.45" stroke-linejoin="round">0</text></g>
<g transform="translate(228.02,408.85) scale(1.0691,1.0774)"><text x="0" y="0" font-family="Liberation Sans" font-weight="bold" font-size="16" stroke="#000" stroke-width="0.45" stroke-linejoin="round">Age [days]</text></g>
<g transform="translate(232.82,790.74) scale(1.0716,1.0516)"><text x="0" y="0" font-family="Liberation Sans" font-weight="bold" font-size="16" stroke="#000" stroke-width="0.45" stroke-linejoin="round">Age [days]</text></g>
<g transform="translate(19.87,240.52) rotate(-90) scale(1.0681,1.0452)"><text x="0" y="0" font-family="Liberation Sans" font-weight="bold" font-size="16" stroke="#000" stroke-width="0.45" stroke-linejoin="round">Weight [g]</text></g>
<g transform="translate(14.04,639.26) rotate(-90) scale(1.0663,1.0174)"><text x="0" y="0" font-family="Liberation Sans" font-weight="bold" font-size="16" stroke="#000" stroke-width="0.45" stroke-linejoin="round">Survival [%]</text></g>
<g transform="translate(382.96,81.28) scale(1.0843,0.9740)"><text x="0" y="0" font-family="Liberation Sans" font-weight="bold" font-size="17" stroke="#000" stroke-width="0.25" stroke-linejoin="round">c-Kit</text></g>
<g transform="translate(425.00,76.00) scale(0.9318,1.0645)"><text x="0" y="0" font-family="Liberation Sans" font-weight="bold" font-size="15" stroke="#000" stroke-width="0.15" stroke-linejoin="round">W</text></g>
<g transform="translate(443.42,77.27) scale(0.9522,1.0043)"><text x="0" y="0" font-family="Liberation Sans" font-weight="bold" font-size="15" stroke="#000" stroke-width="0.15" stroke-linejoin="round">+</text></g>
<g transform="translate(446.18,200.70) scale(1.0555,1.0645)"><text x="0" y="0" font-family="Liberation Sans" font-weight="bold" font-size="17" stroke="#000" stroke-width="0.25" stroke-linejoin="round">Wepo</text></g>
<g transform="translate(211.75,343.37) scale(1.1004,0.9818)"><text x="0" y="0" font-family="Liberation Sans" font-weight="bold" font-size="17" stroke="#000" stroke-width="0.25" stroke-linejoin="round">c-Kit</text></g>
<g transform="translate(253.90,338.50) scale(0.8824,1.0355)"><text x="0" y="0" font-family="Liberation Sans" font-weight="bold" font-size="15" stroke="#000" stroke-width="0.15" stroke-linejoin="round">W</text></g>
<g transform="translate(272.60,338.50) scale(0.9176,1.0355)"><text x="0" y="0" font-family="Liberation Sans" font-weight="bold" font-size="15" stroke="#000" stroke-width="0.15" stroke-linejoin="round">W</text></g>
<g transform="translate(128.75,743.37) scale(1.1004,0.9818)"><text x="0" y="0" font-family="Liberation Sans" font-weight="bold" font-size="17" stroke="#000" stroke-width="0.25" stroke-linejoin="round">c-Kit</text></g>
<g transform="translate(171.10,738.50) scale(0.8824,1.0355)"><text x="0" y="0" font-family="Liberation Sans" font-weight="bold" font-size="15" stroke="#000" stroke-width="0.15" stroke-linejoin="round">W</text></g>
<g transform="translate(189.70,738.50) scale(0.9106,1.0355)"><text x="0" y="0" font-family="Liberation Sans" font-weight="bold" font-size="15" stroke="#000" stroke-width="0.15" stroke-linejoin="round">W</text></g>
<g transform="translate(416.62,619.03) scale(1.0615,1.0421)"><text x="0" y="0" font-family="Liberation Serif" font-weight="bold" font-size="18" stroke="#000" stroke-width="0.3" stroke-linejoin="round">Wepo</text></g>
<g transform="translate(451.20,693.85) scale(1.0411,1.0385)"><text x="0" y="0" font-family="Liberation Serif" font-weight="bold" font-size="18" stroke="#000" stroke-width="0.3" stroke-linejoin="round">Vickid</text></g>
<line x1="438.3" y1="76.1" x2="443.0" y2="65.2" stroke="#000" stroke-width="1.55"/>
<line x1="266.9" y1="338.4" x2="271.9" y2="328.0" stroke="#000" stroke-width="1.55"/>
<line x1="184.2" y1="738.4" x2="189.1" y2="728.0" stroke="#000" stroke-width="1.55"/>
</svg></body></html>
